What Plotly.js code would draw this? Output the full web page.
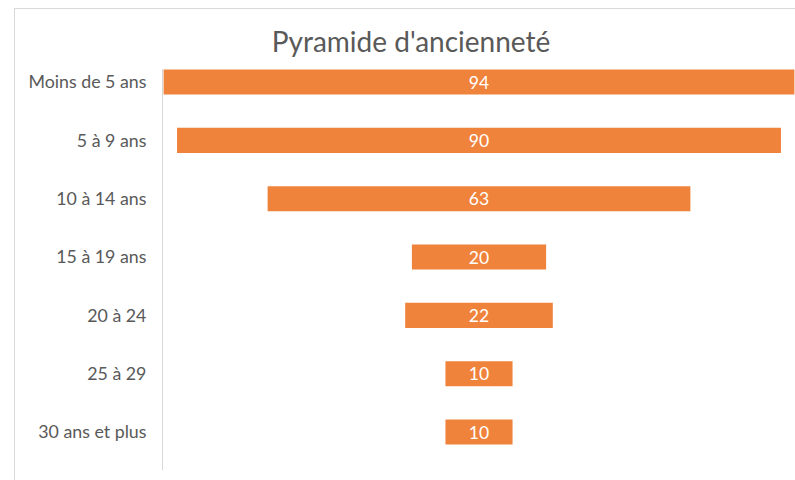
<!DOCTYPE html>
<html>
<head>
<meta charset="utf-8">
<script src="https://cdn.plot.ly/plotly-3.0.1.min.js"></script>
<style>
html,body{margin:0;padding:0;background:#fff;overflow:hidden;}
#frame{position:absolute;left:14px;top:8px;width:900px;height:600px;border:1px solid #d9d9d9;box-sizing:border-box;}
#chart{position:absolute;left:0;top:0;width:795px;height:480px;}
</style>
</head>
<body>
<div id="frame"></div>
<div id="chart"></div>
<script>
const categories = ["Moins de 5 ans", "5 à 9 ans", "10 à 14 ans", "15 à 19 ans", "20 à 24", "25 à 29", "30 ans et plus"];
const values = [94, 90, 63, 20, 22, 10, 10];
const chartTitle = "Pyramide d'ancienneté";

const trace = {
  type: 'funnel',
  y: categories,
  x: values,
  textinfo: 'value',
  textposition: 'inside',
  insidetextanchor: 'middle',
  constraintext: 'none',
  textfont: {color: '#ffffff', size: 17.5, family: 'Lato, sans-serif'},
  marker: {color: '#F0833C', line: {width: 0}},
  connector: {visible: false},
  width: 0.43,
  hoverinfo: 'skip'
};

const layout = {
  width: 795, height: 480,
  paper_bgcolor: 'rgba(0,0,0,0)',
  plot_bgcolor: 'rgba(0,0,0,0)',
  margin: {l: 163, r: 0, t: 69, b: 10},
  showlegend: false,
  uniformtext: {mode: false},
  title: {
    text: chartTitle,
    font: {family: 'Lato, sans-serif', size: 28, color: '#595959'},
    x: 0.517, xanchor: 'center', y: 0.912, yanchor: 'middle'
  },
  xaxis: {range: [-47.09, 47.09], visible: false, fixedrange: true},
  yaxis: {
    type: 'category',
    range: [6.651, -0.223],
    autorange: false,
    showline: true, linecolor: '#d9d9d9', linewidth: 1,
    showgrid: false, zeroline: false,
    ticks: 'outside', ticklen: 12, tickcolor: 'rgba(0,0,0,0)',
    tickfont: {family: 'Lato, sans-serif', size: 17.8, color: '#595959'}
  }
};

Plotly.newPlot('chart', [trace], layout, {displayModeBar: false, staticPlot: true});
</script>
</body>
</html>
